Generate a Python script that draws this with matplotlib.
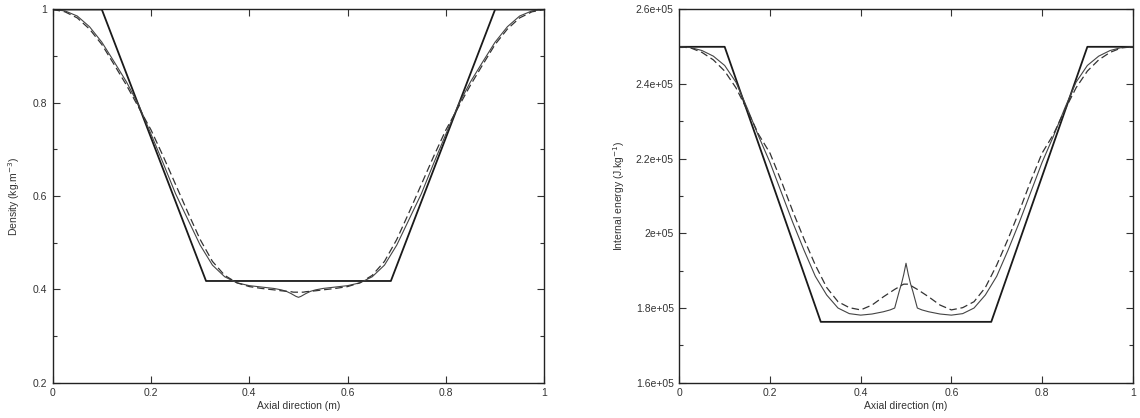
import matplotlib
matplotlib.use('Agg')
import matplotlib.pyplot as plt
from matplotlib.ticker import MultipleLocator, FuncFormatter

# exact solution (piecewise linear)
x_exact = [0.0, 0.1, 0.312, 0.688, 0.9, 1.0]
rho_exact = [1.0, 1.0, 0.418, 0.418, 1.0, 1.0]
e_exact = [2.5e5, 2.5e5, 1.763e5, 1.763e5, 2.5e5, 2.5e5]

# numerical solutions
x_num = [0.0, 0.025, 0.05, 0.075, 0.1, 0.125, 0.15, 0.175, 0.2, 0.225, 0.25,
         0.275, 0.3, 0.325, 0.35, 0.375, 0.4, 0.425, 0.45, 0.465, 0.475, 0.485,
         0.49, 0.495, 0.5, 0.505, 0.51, 0.515, 0.525, 0.535, 0.55, 0.575, 0.6,
         0.625, 0.65, 0.675, 0.7, 0.725, 0.75, 0.775, 0.8, 0.825, 0.85, 0.875,
         0.9, 0.925, 0.95, 0.975, 1.0]

rho_fine = [1.0, 0.997, 0.986, 0.963, 0.93, 0.888, 0.845, 0.795, 0.733, 0.67,
            0.605, 0.55, 0.495, 0.452, 0.427, 0.414, 0.408, 0.405, 0.402, 0.399,
            0.396, 0.391, 0.388, 0.385, 0.383, 0.385, 0.388, 0.391, 0.396, 0.399,
            0.402, 0.405, 0.408, 0.414, 0.427, 0.452, 0.495, 0.55, 0.605, 0.67,
            0.733, 0.795, 0.845, 0.888, 0.93, 0.963, 0.986, 0.997, 1.0]

rho_coarse = [1.0, 0.995, 0.982, 0.958, 0.925, 0.882, 0.838, 0.79, 0.742, 0.685,
              0.625, 0.565, 0.507, 0.46, 0.43, 0.414, 0.406, 0.402, 0.399, 0.397,
              0.396, 0.395, 0.394, 0.394, 0.394, 0.394, 0.394, 0.395, 0.396, 0.397,
              0.399, 0.402, 0.406, 0.414, 0.43, 0.46, 0.507, 0.565, 0.625, 0.685,
              0.742, 0.79, 0.838, 0.882, 0.925, 0.958, 0.982, 0.995, 1.0]

e_fine = [2.5e5, 2.498e5, 2.49e5, 2.475e5, 2.45e5, 2.405e5, 2.335e5, 2.26e5,
          2.19e5, 2.11e5, 2.03e5, 1.955e5, 1.885e5, 1.835e5, 1.80e5, 1.785e5,
          1.781e5, 1.784e5, 1.79e5, 1.795e5, 1.80e5, 1.845e5, 1.865e5, 1.89e5,
          1.92e5, 1.89e5, 1.865e5, 1.845e5, 1.80e5, 1.795e5, 1.79e5, 1.784e5,
          1.781e5, 1.785e5, 1.80e5, 1.835e5, 1.885e5, 1.955e5, 2.03e5, 2.11e5,
          2.19e5, 2.26e5, 2.335e5, 2.405e5, 2.45e5, 2.475e5, 2.49e5, 2.498e5,
          2.5e5]

e_coarse = [2.5e5, 2.497e5, 2.485e5, 2.465e5, 2.435e5, 2.39e5, 2.33e5, 2.265e5,
            2.215e5, 2.14e5, 2.06e5, 1.985e5, 1.915e5, 1.855e5, 1.817e5, 1.801e5,
            1.795e5, 1.808e5, 1.83e5, 1.842e5, 1.85e5, 1.857e5, 1.861e5, 1.864e5,
            1.864e5, 1.864e5, 1.861e5, 1.857e5, 1.85e5, 1.842e5, 1.83e5, 1.808e5,
            1.795e5, 1.801e5, 1.817e5, 1.855e5, 1.915e5, 1.985e5, 2.06e5, 2.14e5,
            2.215e5, 2.265e5, 2.33e5, 2.39e5, 2.435e5, 2.465e5, 2.485e5, 2.497e5,
            2.5e5]

plt.rcParams['font.family'] = ['Liberation Sans', 'DejaVu Sans']
plt.rcParams['font.size'] = 7.5

fig = plt.figure(figsize=(11.4, 4.18), dpi=100)
ax1 = fig.add_axes([0.0462, 0.0845, 0.4312, 0.8928])
ax2 = fig.add_axes([0.5959, 0.0845, 0.3977, 0.8928])

txt = '#333333'


def style(ax):
    ax.set_xlim(0, 1)
    ax.xaxis.set_major_locator(MultipleLocator(0.2))
    ax.tick_params(which='both', direction='in', top=True, right=True,
                   colors=txt, labelsize=7.5, width=0.8, pad=4)
    ax.tick_params(which='major', length=5)
    ax.tick_params(which='minor', length=3)
    ax.xaxis.set_major_formatter(FuncFormatter(lambda v, p: '%g' % round(v, 3)))
    for s in ax.spines.values():
        s.set_color('#222222')
        s.set_linewidth(1.0)
    ax.set_xlabel('Axial direction (m)', color=txt, fontsize=7.5, labelpad=2)


ax1.plot(x_exact, rho_exact, color='#1a1a1a', lw=1.3)
ax1.plot(x_num, rho_fine, color='#444444', lw=0.8)
ax1.plot(x_num, rho_coarse, color='#333333', lw=0.9, dashes=(6, 3))
style(ax1)
ax1.set_ylim(0.2, 1)
ax1.yaxis.set_major_locator(MultipleLocator(0.2))
ax1.yaxis.set_minor_locator(MultipleLocator(0.1))
ax1.yaxis.set_major_formatter(FuncFormatter(lambda v, p: '%g' % round(v, 3)))
ax1.set_ylabel('Density (kg.m$^{-3}$)', color=txt, fontsize=7.5, labelpad=8)

ax2.plot(x_exact, e_exact, color='#1a1a1a', lw=1.3)
ax2.plot(x_num, e_fine, color='#444444', lw=0.8)
ax2.plot(x_num, e_coarse, color='#333333', lw=0.9, dashes=(6, 3))
style(ax2)
ax2.set_ylim(1.6e5, 2.6e5)
ax2.yaxis.set_major_locator(MultipleLocator(0.2e5))
ax2.yaxis.set_minor_locator(MultipleLocator(0.1e5))
ax2.yaxis.set_major_formatter(FuncFormatter(lambda v, p: ('%g' % (v / 1e5)) + 'e+05'))
ax2.set_ylabel('Internal energy (J.kg$^{-1}$)', color=txt, fontsize=7.5, labelpad=6)

plt.savefig('out.png', dpi=100)
